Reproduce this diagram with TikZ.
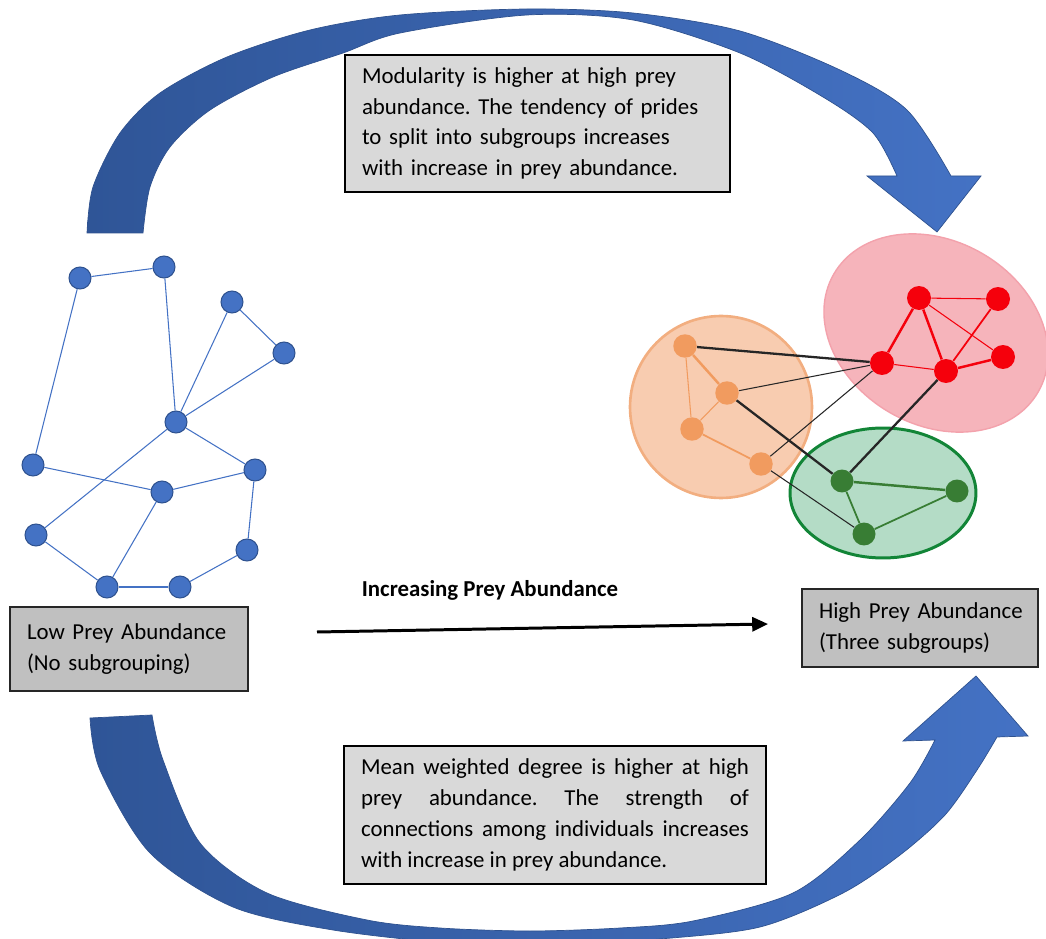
\documentclass[tikz,border=0pt]{standalone}
\usepackage{fontspec}
\setmainfont{Carlito}
\usetikzlibrary{arrows.meta}
\frenchspacing

\definecolor{netblue}{RGB}{68,114,196}
\definecolor{netborder}{RGB}{47,82,143}
\definecolor{arrowdark}{RGB}{47,85,151}
\definecolor{arrowlight}{RGB}{68,114,196}
\definecolor{notegray}{RGB}{217,217,217}
\definecolor{labelgray}{RGB}{192,192,192}
\definecolor{redfill}{RGB}{246,180,187}
\definecolor{redline}{RGB}{243,162,172}
\definecolor{rednode}{RGB}{245,0,12}
\definecolor{orangefill}{RGB}{248,204,176}
\definecolor{orangeline}{RGB}{242,174,128}
\definecolor{orangenode}{RGB}{241,155,95}
\definecolor{greenfill}{RGB}{180,220,198}
\definecolor{greenline}{RGB}{18,133,55}
\definecolor{greennode}{RGB}{56,125,52}

\newcommand\diagfont{\fontsize{13}{17.5}\selectfont}

\tikzset{
  lion/.style={circle, fill=netblue, draw=netborder, line width=0.6pt,
    minimum size=0.44cm, inner sep=0pt},
  tie/.style={draw=netblue, line width=0.6pt},
  redlion/.style={circle, fill=rednode, minimum size=0.48cm, inner sep=0pt},
  orangelion/.style={circle, fill=orangenode, minimum size=0.47cm, inner sep=0pt},
  greenlion/.style={circle, fill=greennode, minimum size=0.46cm, inner sep=0pt},
  strong/.style={line width=1.4pt},
  weak/.style={line width=0.6pt},
  notebox/.style={draw=black, line width=0.9pt, fill=notegray, inner xsep=0.34cm,
    font=\diagfont},
  labelbox/.style={draw=black!85, line width=0.9pt, fill=labelgray, inner xsep=0.34cm,
    font=\diagfont, align=left},
  bigarrow/.style={left color=arrowdark, right color=arrowlight, draw=netborder,
    line width=0.4pt}
}

\begin{document}
\begin{tikzpicture}[x=0.02cm, y=-0.02cm]
  \useasboundingbox (0,0) rectangle (1046,939);

  % curved arrow over the top
  \path[bigarrow] (87,233)
    -- plot[smooth] coordinates {(87,233) (93,187) (120,133) (160,93) (227,57)
      (310,30) (400,15) (527,9) (633,13) (740,31) (840,70) (907,110) (951,176)}
    -- (981,176) -- (937,232) -- (867,176) -- (897,176)
    -- plot[smooth] coordinates {(897,176) (873,133) (823,97) (740,53) (633,20)
      (527,15) (400,33) (343,53) (273,77) (210,110) (170,147) (150,187) (143,233)}
    -- cycle;

  % curved arrow under the bottom
  \path[bigarrow] (90,718)
    -- plot[smooth] coordinates {(90,718) (100,770) (150,853) (233,907) (333,930)
      (450,943) (560,945) (660,939) (760,927) (843,893) (900,855) (945,815)
      (977,770) (997,737)}
    -- (1028,736) -- (976,676) -- (903,741) -- (935,740)
    -- plot[smooth] coordinates {(935,740) (910,783) (860,840) (793,893) (693,921)
      (620,928) (530,931) (440,928) (367,920) (267,893) (200,843) (163,760)
      (152,715)}
    -- cycle;

  % text boxes
  \node[notebox, text width=7.02cm, minimum height=2.74cm, align=left]
    (modularity) at (537.5,123.5)
    {Modularity is higher at high prey\\ abundance. The tendency of prides\\
     to split into subgroups increases\\ with increase in prey abundance.};
  \node[notebox, text width=7.76cm, minimum height=2.76cm, align=justify]
    (degree) at (555,815)
    {Mean weighted degree is higher at high\linebreak prey abundance. The strength of\linebreak
     connections among individuals increases\linebreak with increase in prey abundance.};
  \node[labelbox, text width=4.08cm, minimum height=1.68cm] (low) at (129,649)
    {\mbox{Low Prey Abundance}\\(No subgrouping)};
  \node[labelbox, text width=4.04cm, minimum height=1.56cm] (high) at (920,628)
    {\mbox{High Prey Abundance}\\(Three subgroups)};

  % low prey abundance network
  \draw
    (80,278) node[lion] (a1){}
    (164,267) node[lion] (a2){}
    (232,302) node[lion] (a3){}
    (284,353) node[lion] (a4){}
    (176,422) node[lion] (a5){}
    (33,465) node[lion] (a6){}
    (255,470) node[lion] (a7){}
    (162,492) node[lion] (a8){}
    (36,535) node[lion] (a9){}
    (247,550) node[lion] (a10){}
    (107,587) node[lion] (a11){}
    (180,587) node[lion] (a12){};
  \begin{scope}[tie]
    \draw (a1) to (a2);
    \draw (a1) to (a6);
    \draw (a2) to (a5);
    \draw (a3) to (a5);
    \draw (a3) to (a4);
    \draw (a4) to (a5);
    \draw (a5) to (a7);
    \draw (a5) to (a9);
    \draw (a6) to (a8);
    \draw (a8) to (a7);
    \draw (a8) to (a11);
    \draw (a7) to (a10);
    \draw (a9) to (a11);
    \draw (a11) to (a12);
    \draw (a12) to (a10);
  \end{scope}

  % high prey abundance: three subgroups
  \draw[fill=orangefill, draw=orangeline, line width=1.5pt] (721,407) circle [radius=1.82cm];
  \draw[fill=redfill, draw=redline, line width=0.8pt, shift={(936,333)}, rotate=-30]
    (0,0) ellipse [x radius=2.36cm, y radius=1.84cm];
  \draw[fill=greenfill, draw=greenline, line width=1.7pt] (883,493)
    ellipse [x radius=1.86cm, y radius=1.3cm];

  \draw
    (919,298) node[redlion] (r1){}
    (998,299) node[redlion] (r2){}
    (1003,357) node[redlion] (r3){}
    (882,363) node[redlion] (r4){}
    (946,371) node[redlion] (r5){}
    (685,346) node[orangelion] (o1){}
    (727,393) node[orangelion] (o2){}
    (692,429) node[orangelion] (o3){}
    (761,464) node[orangelion] (o4){}
    (842,481) node[greenlion] (g1){}
    (957,491) node[greenlion] (g2){}
    (864,534) node[greenlion] (g3){};
  \begin{scope}[draw=rednode]
    \draw[strong] (r1) to (r4);
    \draw[strong] (r1) to (r5);
    \draw[strong] (r5) to (r3);
    \draw[weak] (r1) to (r2);
    \draw[weak] (r1) to (r3);
    \draw[line width=1pt] (r2) to (r5);
    \draw[weak] (r4) to (r5);
  \end{scope}
  \begin{scope}[draw=orangenode]
    \draw[strong] (o1) to (o2);
    \draw[weak] (o1) to (o3);
    \draw[weak] (o2) to (o3);
    \draw[line width=1pt] (o3) to (o4);
  \end{scope}
  \begin{scope}[draw=greennode]
    \draw[strong] (g1) to (g2);
    \draw[line width=1pt] (g1) to (g3);
    \draw[line width=1pt] (g3) to (g2);
  \end{scope}
  \begin{scope}[draw=black!85]
    \draw[line width=1.3pt] (o1) to (r4);
    \draw[weak] (o2) to (r4);
    \draw[weak] (o4) to (r4);
    \draw[line width=1.3pt] (o2) to (g1);
    \draw[weak] (o4) to (g3);
    \draw[line width=1.3pt] (r5) to (g1);
  \end{scope}

  % increasing prey abundance
  \node[font=\diagfont\bfseries] (trend) at (490,590) {Increasing Prey Abundance};
  \coordinate (trendstart) at (317,632);
  \coordinate (trendend) at (768,624);
  \draw[line width=1.7pt, -{Triangle[length=9pt, width=8pt]}] (trendstart) -- (trendend);
\end{tikzpicture}
\end{document}
